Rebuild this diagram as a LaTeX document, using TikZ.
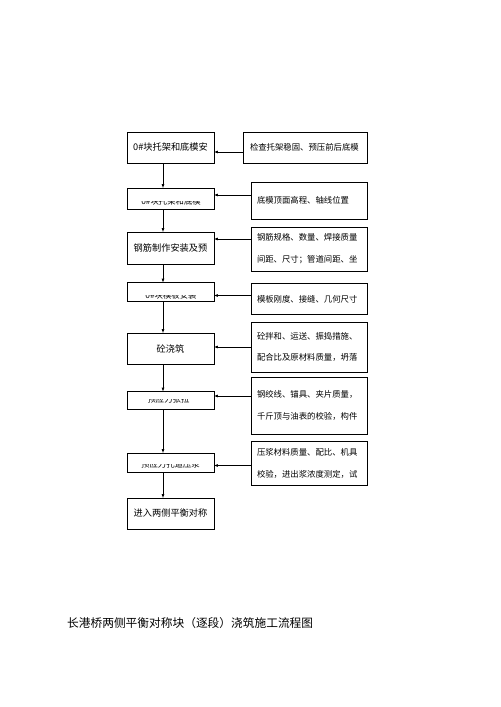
\documentclass[tikz,border=0pt]{standalone}
\usepackage{fontspec}
\setmainfont{Noto Sans CJK SC}
\usetikzlibrary{calc}
\def\px{0.042cm}
\begin{document}
\begin{tikzpicture}[x=0.042cm,y=-0.042cm,>=latex,
    lbox/.style={draw, line width=0.5pt, inner sep=0pt, minimum width=87*\px, font=\fontsize{11}{13}\selectfont},
    rbox/.style={draw, line width=0.5pt, inner ysep=0pt, inner xsep=6*\px, align=left, font=\fontsize{10}{26}\selectfont},
    arr/.style={->, line width=0.5pt}]
  \fill[white] (0,0) rectangle (500,707);
  \useasboundingbox (0,0) rectangle (500,707);
  \foreach \nm/\y/\hh/\txt in {l1/147.5/31/{0\#块托架和底模安}, l2/198.5/21/{}, l3/248/32/{钢筋制作安装及预},
      l4/292/19/{}, l5/348.5/31/{砼浇筑}, l6/400.5/18/{}, l7/462.5/19/{}, l8/513.5/31/{进入两侧平衡对称}}
    \node[lbox, minimum height=\hh*\px] (\nm) at (170.5,\y) {\txt};
  \foreach \nm/\yc/\xc/\txt in {l2/201/171/{0\#块托架和底模}, l4/295/171/{0\#块模板安装}, l6/399.5/168.5/{预应力张拉}, l7/464.5/170.5/{预应力孔道压浆}}
  {
    \begin{scope}
      \clip (\nm.west |- 0,\yc) rectangle (\nm.south east);
      \node[font=\fontsize{10}{12}\selectfont, inner sep=0pt] (\nm t) at (\xc,\yc) {\txt};
    \end{scope}
  }
  \node[rbox, minimum width=124*\px, text width=110*\px, inner xsep=7*\px, minimum height=31*\px] (r1) at (305,147.5) {检查托架稳固、预压前后底模};
  \foreach \nm/\y/\hh/\txt in {r2/200.5/37/{底模顶面高程、轴线位置}, r3/249/44/{钢筋规格、数量、焊接质量\\间距、尺寸；管道间距、坐},
      r4/299/31/{模板刚度、接缝、几何尺寸}, r5/347/50/{砼拌和、运送、振捣措施、\\配合比及原材料质量，坍落},
      r6/405.5/57/{钢绞线、锚具、夹片质量，\\千斤顶与油表的校验，构件}, r7/463.5/44/{压浆材料质量、配比、机具\\校验，进出浆浓度测定，试}}
    \node[rbox, minimum width=116*\px, text width=104*\px, minimum height=\hh*\px] (\nm) at (309,\y) {\txt};
  \coordinate (ax) at (163,0);
  \foreach \a/\b in {l1/l2, l2/l3, l3/l4, l4/l5, l5/l6, l6/l7, l7/l8}
    \draw[arr] (\a.south -| ax) -- (\b.north -| ax);
  \foreach \i/\y in {1/152, 2/195, 3/239, 4/295.5, 5/347, 6/396, 7/465.5}
    \draw[arr] (r\i.west |- 0,\y) -- (l\i.east |- 0,\y);
  \node[anchor=west, inner sep=0pt, font=\fontsize{14}{16}\selectfont] (title) at (67,623) {长港桥两侧平衡对称块（逐段）浇筑施工流程图};
\end{tikzpicture}
\end{document}
